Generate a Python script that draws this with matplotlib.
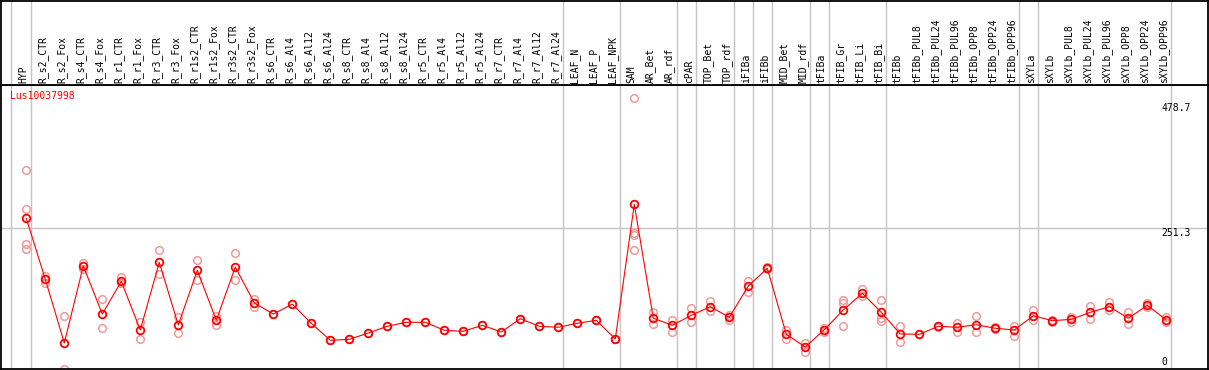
import numpy as np
import matplotlib
matplotlib.use("Agg")
from matplotlib import pyplot as plt

# sample columns
labels = ["HYP",
          "R_s2_CTR", "R_s2_Fox", "R_s4_CTR", "R_s4_Fox", "R_r1_CTR", "R_r1_Fox",
          "R_r3_CTR", "R_r3_Fox", "R_r1s2_CTR", "R_r1s2_Fox", "R_r3s2_CTR", "R_r3s2_Fox",
          "R_s6_CTR", "R_s6_Al4", "R_s6_Al12", "R_s6_Al24",
          "R_s8_CTR", "R_s8_Al4", "R_s8_Al12", "R_s8_Al24",
          "R_r5_CTR", "R_r5_Al4", "R_r5_Al12", "R_r5_Al24",
          "R_r7_CTR", "R_r7_Al4", "R_r7_Al12", "R_r7_Al24",
          "LEAF_N", "LEAF_P", "LEAF_NPK",
          "SAM", "AR_Bet", "AR_rdf", "cPAR", "TOP_Bet", "TOP_rdf",
          "iFIBa", "iFIBb", "MID_Bet", "MID_rdf", "tFIBa",
          "tFIB_Gr", "tFIB_Li", "tFIB_Bi",
          "tFIBb", "tFIBb_PUL8", "tFIBb_PUL24", "tFIBb_PUL96",
          "tFIBb_OPP8", "tFIBb_OPP24", "tFIBb_OPP96",
          "sXYLa", "sXYLb", "sXYLb_PUL8", "sXYLb_PUL24", "sXYLb_PUL96",
          "sXYLb_OPP8", "sXYLb_OPP24", "sXYLb_OPP96"]

# mean expression per column
means = [269.4,
         159.0, 43.6, 183.1, 96.1, 155.3, 67.2, 189.7, 76.2, 175.3, 84.7, 181.2, 116.1,
         96.1, 114.0, 79.3, 48.5, 50.3, 61.7, 73.9, 81.1,
         81.1, 66.6, 64.8, 75.7, 63.6, 87.6, 73.9, 72.1,
         79.3, 84.7, 50.9,
         294.8, 88.4, 75.7, 93.8, 109.4, 90.2,
         146.8, 178.9, 59.4, 36.4, 67.7,
         103.4, 133.6, 99.2,
         59.9, 59.4, 73.9, 72.1, 76.8, 70.3, 67.2,
         93.1, 84.0, 86.5, 99.2, 109.4, 88.4, 111.9, 85.3]

# individual replicates
reps = [[356.3, 285.7, 222.9, 214.4],
        [165.0, 151.7], [92.5, -4.0], [189.0, 177.0], [122.8, 70.3],
        [162.6, 151.7], [82.2, 50.3], [211.5, 168.0], [90.2, 61.2],
        [193.9, 157.2], [92.5, 75.7], [206.0, 157.2], [122.8, 109.4],
        [96.1], [114.0], [79.3], [48.5], [50.3], [61.7], [73.9], [81.1],
        [81.1], [66.6], [64.8], [75.7], [63.6], [87.6], [73.9], [72.1],
        [79.3], [84.7], [50.9],
        [486.7, 242.3, 238.6, 211.5], [99.2, 77.5], [85.3, 64.1],
        [106.5, 81.1], [120.2, 101.6], [94.9, 85.5],
        [156.4, 136.0], [181.0, 177.0], [67.2, 51.4], [44.2, 27.9], [71.3, 64.1],
        [121.5, 116.6, 73.9], [142.0, 129.3], [121.5, 89.4, 83.5],
        [73.9, 44.9], [59.4], [75.0, 72.5], [80.4, 64.1],
        [92.0, 63.0], [72.0, 68.5], [74.4, 56.3],
        [103.4, 85.3], [85.3, 82.0], [91.3, 81.1], [110.6, 86.5],
        [118.4, 103.4], [99.2, 78.6], [116.1, 109.4], [90.2, 82.2]]

# last column of each tissue group
group_ends = [0, 28, 31, 34, 35, 37, 38, 39, 41, 42, 45, 52, 53, 60]
ytick_vals = [478.7, 251.3, 0]
gene = "Lus10037998"

W, H = 1209, 370
fig = plt.figure(figsize=(W / 100, H / 100), dpi=100)

top_px = 85.3
x0 = (1 - 26.3) / 19
x1 = (1207.7 - 26.3) / 19
ax = fig.add_axes([1 / W, 1 / H, 1206.7 / W, (369 - top_px) / H])
hd = fig.add_axes([1 / W, (H - top_px) / H, 1206.7 / W, (top_px - 0.5) / H])

mono = "DejaVu Sans Mono"
grey = "#c4c4c4"

x = np.arange(len(labels))
seps = [-0.82] + [e + 0.23 for e in group_ends]

for a in (ax, hd):
    a.set_xlim(x0, x1)
    a.set_xticks([])
    a.set_yticks([])
    for s in a.spines.values():
        s.set_linewidth(1.3)
        s.set_color("black")
    for sx in seps:
        a.axvline(sx, color=grey, lw=1.0, zorder=0)

hd.set_ylim(top_px, 0)
for i, lab in enumerate(labels):
    hd.text(i - 0.13, 83, lab, rotation=90, ha="center", va="bottom",
            fontsize=7, family=mono)

ylo = (367.1 - 369) / 0.5523
yhi = (367.1 - top_px) / 0.5523
ax.set_ylim(ylo, yhi)
ax.axhline(ytick_vals[1], color=grey, lw=1.0, zorder=0)

for i, r in enumerate(reps):
    ax.plot([i] * len(r), r, "o", ms=5.5, mfc="none", mec="#f09a9a", mew=1.1,
            clip_on=True, zorder=2)

ax.plot(x, means, "-", color="red", lw=0.8, zorder=3)
ax.plot(x, means, "o", ms=5.5, mfc="none", mec="red", mew=1.3, zorder=4)

for v in ytick_vals:
    ax.text(59.76, v, f"{v:g}" if v else "0", ha="left",
            va="top" if v else "bottom", fontsize=7, family=mono)

fig.text(10 / W, 1 - 91 / H, gene, color="red", fontsize=7, family=mono,
         ha="left", va="top")

fig.savefig("out.png", dpi=100)
